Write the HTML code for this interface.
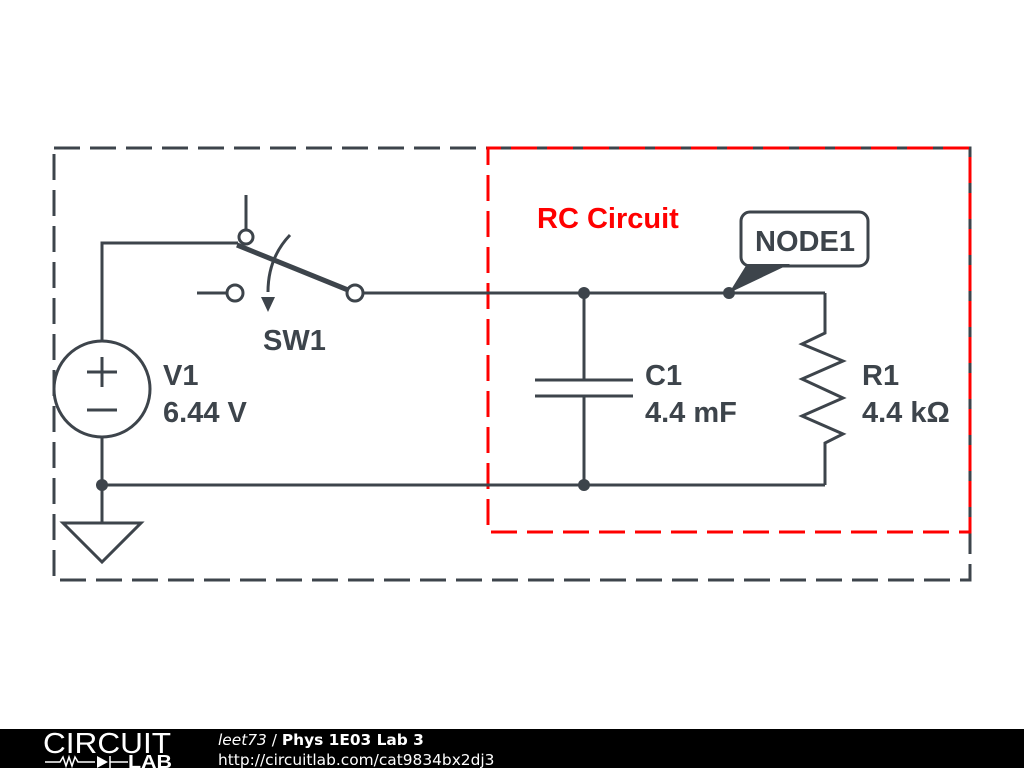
<!DOCTYPE html>
<html><head><meta charset="utf-8"><style>
html,body{margin:0;padding:0;background:#fff;width:1024px;height:768px;overflow:hidden}
svg{display:block}
</style></head><body>
<svg width="1024" height="768" viewBox="0 0 1024 768" xmlns="http://www.w3.org/2000/svg">
<g fill="none" stroke-width="3">
<rect x="54" y="148" width="916" height="432" stroke="#3d444b" stroke-dasharray="26,10"/>
<rect x="488" y="148" width="482" height="384" stroke="#f00" stroke-dasharray="26,10" stroke-dashoffset="13"/>
</g>
<g fill="none" stroke="#3d444b" stroke-width="3" stroke-linejoin="miter">
<polyline points="238,243 102,243 102,341"/>
<circle cx="102" cy="389" r="48"/>
<line x1="87" y1="372" x2="117" y2="372"/><line x1="102" y1="357" x2="102" y2="387"/>
<line x1="87" y1="410" x2="117" y2="410"/>
<line x1="102" y1="437" x2="102" y2="523"/>
<polygon points="63,523 141,523 102,562"/>
<line x1="102" y1="485" x2="825" y2="485"/>
<line x1="246" y1="195" x2="246" y2="230"/>
<circle cx="246" cy="237" r="7" fill="#fff"/>
<line x1="237" y1="245" x2="348" y2="290" stroke-width="5"/>
<line x1="197" y1="293" x2="227" y2="293"/>
<circle cx="235" cy="293" r="8" fill="#fff"/>
<circle cx="355" cy="293" r="8" fill="#fff"/>
<path d="M290,235 Q268,258 268,292"/>
<line x1="363" y1="293" x2="825" y2="293"/>
<line x1="584" y1="293" x2="584" y2="380"/>
<line x1="535" y1="380" x2="633" y2="380"/>
<line x1="535" y1="396" x2="633" y2="396"/>
<line x1="584" y1="396" x2="584" y2="485"/>
<polyline points="825,293 825,333 802,344 843,361 802,379 843,398 802,416 843,434 825,443 825,485"/>
<rect x="741" y="212" width="127" height="54" rx="9" fill="#fff"/>
</g>
<polygon points="261,297 275,297 268,312" fill="#3d444b"/>
<polygon points="747,264 790,264 729,293" fill="#3d444b"/>
<g fill="#3d444b">
<circle cx="102" cy="485" r="6"/><circle cx="584" cy="485" r="6"/><circle cx="584" cy="293" r="6"/><circle cx="729" cy="293" r="6"/>
</g>
<g font-family="Liberation Sans, sans-serif" font-weight="bold" font-size="29" fill="#3d444b">
<text x="163" y="385">V1</text><text x="163" y="422">6.44 V</text>
<text x="263" y="350">SW1</text>
<text x="645" y="385">C1</text><text x="645" y="422">4.4 mF</text>
<text x="862" y="385">R1</text><text x="862" y="422">4.4 kΩ</text>
<text x="805" y="251" text-anchor="middle">NODE1</text>
<text x="537" y="228" fill="#f00">RC Circuit</text>
</g>
<rect x="0" y="729" width="1024" height="39" fill="#000"/>
<text x="43" y="753" font-family="Liberation Sans, sans-serif" font-size="29" fill="#fff" textLength="128" lengthAdjust="spacingAndGlyphs">CIRCUIT</text>
<g stroke="#fff" stroke-width="1.5" fill="none"><polyline points="45,762 60,762 63,757 66,766 69,757 72,766 75,757 78,762 95,762"/><line x1="110" y1="756" x2="110" y2="768"/><line x1="110" y1="762" x2="128" y2="762"/></g>
<polygon points="97,756 97,768 108,762" fill="#fff"/>
<text x="128" y="768" font-family="Liberation Sans, sans-serif" font-weight="bold" font-size="18" fill="#fff" textLength="44" lengthAdjust="spacingAndGlyphs">LAB</text>
<text x="218" y="745" font-family="DejaVu Sans, sans-serif" font-size="15.4" fill="#fff"><tspan font-style="italic">leet73</tspan> / <tspan font-weight="bold">Phys 1E03 Lab 3</tspan></text>
<text x="218" y="765" font-family="DejaVu Sans, sans-serif" font-size="15.4" fill="#fff">http://circuitlab.com/cat9834bx2dj3</text>
</svg>
</body></html>
